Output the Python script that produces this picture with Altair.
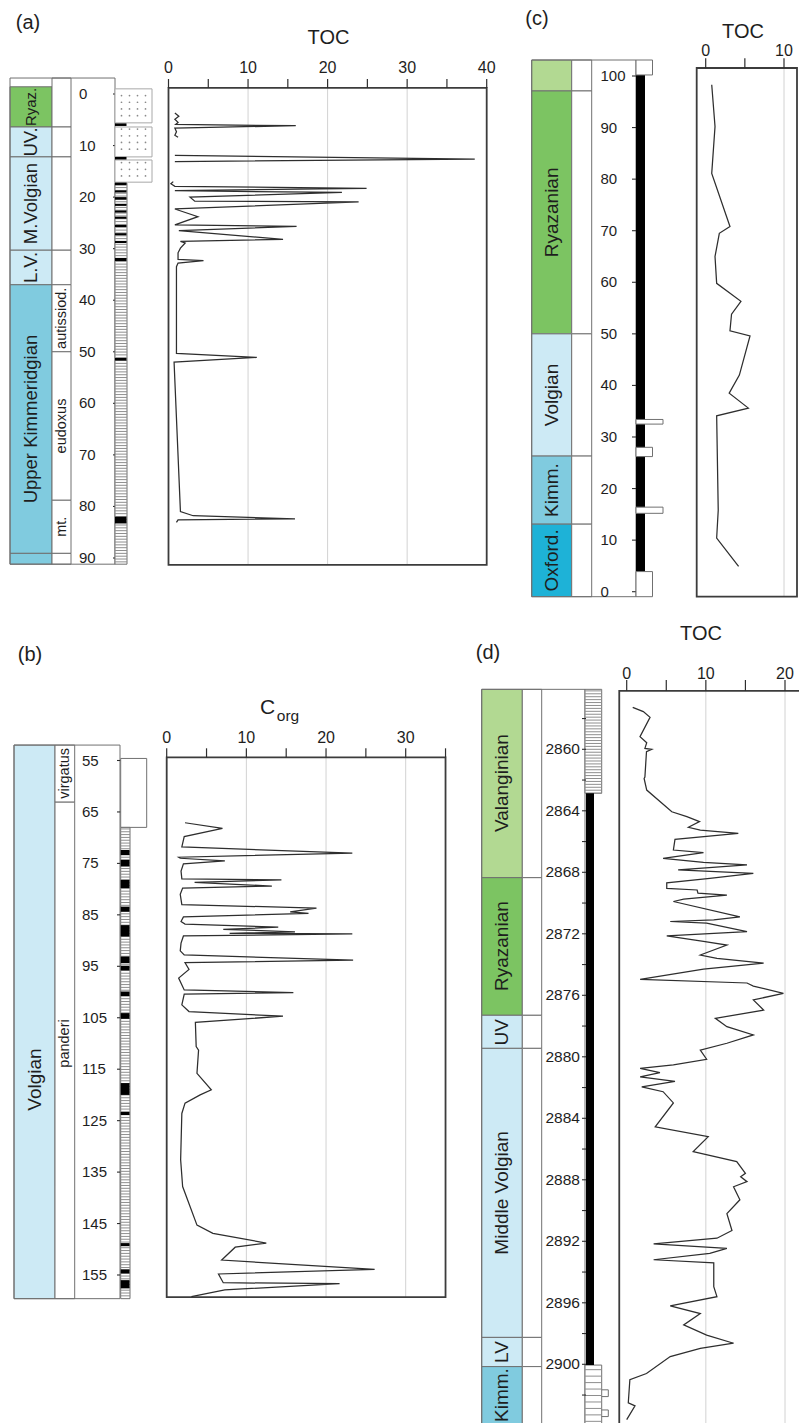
import altair as alt
import pandas as pd

FONT = "Liberation Sans"
TEXT = "#1e1e1e"
INK = "#2e2e2e"
EDGE = "#707070"
FRAME = "#3c3c3c"
GRID = "#d2d2d2"
HATCH = "#8e8e8e"

STAGE_KINDS = ["Valanginian", "Ryazanian", "Volgian", "Kimmeridgian", "Oxfordian"]
STAGE_COLORS = ["#b2d992", "#7cc462", "#cdeaf5", "#80cbdf", "#1eb2d7"]
FS_OVERRIDE = {"Ryaz.": 15}

panel_labels = ["(a)", "(b)", "(c)", "(d)"]
axis_titles = ["TOC", "C", "org"]

# ================= panel (a) =================
a_stage_name = ["Ryaz.", "UV.", "M.Volgian", "L.V.", "Upper Kimmeridgian", ""]
a_stage_kind = ["Ryazanian", "Volgian", "Volgian", "Volgian", "Kimmeridgian", "Kimmeridgian"]
a_stage_top = [-1.4, 6.4, 12.2, 30.3, 37.0, 89.1]
a_stage_bot = [6.4, 12.2, 30.3, 37.0, 89.1, 91.2]
a_zone_name = ["", "", "", "", "autissiod.", "eudoxus", "mt.", ""]
a_zone_top = [-3.1, 6.4, 12.2, 30.3, 37.0, 50.0, 78.8, 89.1]
a_zone_bot = [6.4, 12.2, 30.3, 37.0, 50.0, 78.8, 89.1, 91.2]
a_extent = [-3.1, 91.2]
a_depth_ticks = [0, 10, 20, 30, 40, 50, 60, 70, 80, 90]
a_depth_labels = [0, 10, 20, 30, 40, 50, 60, 70, 80, 90]
a_sand_top = [-1.0, 6.4, 12.8]
a_sand_bot = [5.6, 12.2, 17.1]
a_shale = [17.3, 91.2]
a_black_top = [5.7, 12.2, 17.2, 18.7, 20.0, 21.3, 22.6, 23.8, 25.4, 27.0, 28.5, 31.8, 51.2, 82.0]
a_black_bot = [6.2, 12.7, 17.7, 19.1, 20.5, 21.7, 23.0, 24.2, 25.8, 27.4, 28.9, 32.4, 51.7, 83.3]
a_toc_ticks = [0, 5, 10, 15, 20, 25, 30, 35, 40]
a_toc_labels = [0, 10, 20, 30, 40]
a_toc_grid = [10, 20, 30]
a_toc_frame_x = [0, 40]
a_toc_frame_y = [-1.2, 91.35]
a_toc = [0.8, 1.3, 0.8, 1.2, 0.9, 16.0, 0.8, 1.0, 0.8, 1.2,
         0.8, 38.5, 0.8,
         0.6, 0.3, 0.8, 24.9, 0.8, 21.8, 2.7, 3.3, 23.9, 0.8, 3.7, 0.8, 16.1, 1.3, 14.4, 1.5,
         2.1, 1.5, 1.2, 1.2, 4.4, 1.2, 1.0, 1.0, 11.1, 0.7, 1.5, 3.1, 15.9, 1.2, 1.0]
a_depth = [3.7, 4.3, 4.9, 5.5, 5.9, 6.15, 6.6, 7.3, 8.0, 8.4,
           11.9, 12.65, 13.1,
           17.0, 17.4, 17.9, 18.3, 18.75, 19.1, 20.0, 20.8, 20.9, 22.3, 23.8, 25.4, 25.7, 26.5, 28.2, 28.6,
           28.9, 29.9, 30.8, 32.1, 32.3, 32.8, 33.5, 50.3, 51.1, 52.0, 81.0, 81.8, 82.4, 82.6, 83.1]
a_seg = [0] * 10 + [1] * 3 + [2] * 31

# ================= panel (b) =================
b_stage_name = ["Volgian"]
b_stage_kind = ["Volgian"]
b_stage_top = [52.0]
b_stage_bot = [159.6]
b_stage_lab = [117.0]
b_zone_name = ["virgatus", "panderi"]
b_zone_top = [52.0, 63.1]
b_zone_bot = [63.1, 159.6]
b_zone_lab = [57.5, 110.0]
b_extent = [52.0, 159.6]
b_depth_ticks = [55, 65, 75, 85, 95, 105, 115, 125, 135, 145, 155]
b_depth_labels = [55, 65, 75, 85, 95, 105, 115, 125, 135, 145, 155]
b_white_top = [54.6]
b_white_bot = [68.0]
b_shale = [68.0, 159.6]
b_black_top = [72.4, 74.3, 78.2, 83.4, 87.0, 93.1, 94.9, 99.9, 104.1, 117.7, 123.3, 148.8, 153.9, 156.0]
b_black_bot = [73.4, 75.6, 79.8, 84.4, 89.2, 94.4, 95.8, 100.8, 105.2, 120.0, 123.9, 149.4, 154.7, 157.6]
b_toc_ticks = [0, 5, 10, 15, 20, 25, 30, 35]
b_toc_labels = [0, 10, 20, 30]
b_toc_grid = [10, 20, 30]
b_toc_frame_x = [0, 35]
b_toc_frame_y = [54.4, 159.3]
b_corg = [2.3, 7.0, 2.2, 1.9, 23.3, 1.5, 1.7, 7.3, 2.1, 1.8, 1.9, 14.4, 3.5, 13.2, 2.0, 1.7, 1.9,
          18.8, 15.5, 17.8, 2.1, 1.8, 2.3, 14.0, 7.1, 16.1, 7.9, 23.3, 2.1, 1.8, 1.7, 2.2, 23.4,
          2.3, 2.8, 1.5, 2.2, 15.9, 2.2, 1.9, 2.8, 14.6, 3.6, 3.7, 4.0, 3.8, 5.6, 4.2, 2.3, 1.9,
          1.75, 2.0, 3.8, 5.8, 12.5, 8.6, 6.9, 26.1, 6.5, 7.1, 21.7, 7.3, 3.1]
b_depth = [67.1, 68.2, 69.8, 71.8, 73.0, 73.8, 74.0, 74.5, 75.1, 76.5, 78.0, 78.2, 78.7, 79.4, 79.8, 81.0, 83.0,
           83.7, 84.4, 84.7, 85.4, 86.3, 86.8, 87.4, 87.8, 88.3, 88.6, 88.7, 89.1, 90.5, 92.0, 92.8, 93.8,
           94.3, 95.6, 97.3, 99.6, 100.1, 100.4, 102.5, 103.8, 104.7, 105.9, 110.6, 111.3, 115.8, 119.0, 120.0, 121.6, 123.6,
           132.6, 137.8, 145.3, 146.9, 148.8, 149.6, 152.1, 153.9, 154.8, 156.5, 156.7, 157.9, 159.2]

# ================= panel (c) =================
c_stage_name = ["", "Ryazanian", "Volgian", "Kimm.", "Oxford."]
c_stage_kind = ["Valanginian", "Ryazanian", "Volgian", "Kimmeridgian", "Oxfordian"]
c_stage_top = [103.1, 97.1, 50.0, 26.3, 13.1]
c_stage_bot = [97.1, 50.0, 26.3, 13.1, -0.97]
c_extent = [103.1, -0.97]
c_depth_ticks = [0, 10, 20, 30, 40, 50, 60, 70, 80, 90, 100]
c_depth_labels = [0, 10, 20, 30, 40, 50, 60, 70, 80, 90, 100]
c_box_top = [100.2, 33.4, 28.0, 16.4, 3.9]
c_box_bot = [103.1, 32.5, 26.2, 15.2, -0.97]
c_box_wide = [0, 1, 0, 1, 0]
c_black = [3.9, 100.2]
c_toc_ticks = [0, 5, 10]
c_toc_labels = [0, 10]
c_toc_grid = [10]
c_toc_frame_x = [-1.15, 11.66]
c_toc_frame_y = [101.55, -0.97]
c_toc = [0.77, 1.19, 0.77, 3.1, 1.74, 1.19, 1.4, 4.5, 3.3, 3.1, 5.66, 4.3, 3.0, 5.45, 1.4, 1.6, 1.4, 4.2]
c_height = [98.3, 90.2, 81.1, 70.8, 69.5, 65.0, 59.8, 56.3, 53.8, 50.6, 49.6, 42.0, 38.5, 35.6, 34.1, 15.8, 10.4, 4.9]

# ================= panel (d) =================
d_stage_name = ["Valanginian", "Ryazanian", "UV", "Middle Volgian", "LV", "Kimm."]
d_stage_kind = ["Valanginian", "Ryazanian", "Volgian", "Volgian", "Volgian", "Kimmeridgian"]
d_stage_top = [2856.1, 2868.35, 2877.3, 2879.45, 2898.25, 2900.15]
d_stage_bot = [2868.35, 2877.3, 2879.45, 2898.25, 2900.15, 2905.0]
d_stage_lab = [2862.2, 2872.8, 2878.4, 2888.85, 2899.2, 2902.0]
d_extent = [2856.1, 2905.0]
d_depth_ticks = [2858, 2860, 2862, 2864, 2866, 2868, 2870, 2872, 2874, 2876, 2878, 2880,
                 2882, 2884, 2886, 2888, 2890, 2892, 2894, 2896, 2898, 2900, 2902]
d_depth_labels = [2860, 2864, 2868, 2872, 2876, 2880, 2884, 2888, 2892, 2896, 2900]
d_shale_top = [2856.1, 2900.05]
d_shale_bot = [2862.86, 2905.0]
d_black = [2862.86, 2900.05]
d_bump_top = [2901.66, 2902.97]
d_bump_bot = [2902.1, 2903.4]
d_toc_ticks = [0, 5, 10, 15, 20]
d_toc_labels = [0, 10, 20]
d_toc_grid = [10, 20]
d_toc_frame_x = [-0.94, 25]
d_toc_frame_y = [2856.2, 2906]
d_toc = [0.76, 2.1, 2.95, 1.68, 2.53, 2.3, 3.16, 2.5, 2.3, 2.2, 2.53, 5.7, 7.6, 9.2, 7.8, 9.3, 14.1, 6.1,
         5.9, 9.7, 4.6, 9.7, 15.2, 6.5, 16.0, 10.5, 5.06, 5.06, 8.9, 9.0, 12.66, 7.2, 5.9, 14.3, 11.0,
         5.5, 10.1, 15.2, 5.06, 9.7, 12.66, 9.3, 11.4, 17.3, 9.7, 1.7, 15.2, 16.0, 19.8, 16.0, 17.3,
         11.2, 12.66, 16.0, 12.66, 9.3, 10.1, 5.9, 1.7, 4.2, 1.7, 6.1, 1.9, 4.6, 5.9, 3.6, 10.3, 8.4,
         13.9, 15.0, 14.4, 15.2, 13.5, 14.3, 12.66, 13.3, 11.4, 3.4, 12.66, 10.5, 3.4, 11.0, 11.0,
         11.4, 5.5, 9.3, 7.2, 10.1, 13.5, 9.3, 5.5, 2.5, 0.4, 0.2, 1.05, 0.0]
d_depth = [2857.27, 2857.55, 2857.92, 2859.18, 2859.57, 2859.94, 2860.0, 2860.15, 2861.8, 2861.9, 2862.65,
           2864.06, 2864.38, 2864.7, 2865.07, 2865.25, 2865.47, 2865.86, 2866.55, 2866.72, 2867.09,
           2867.35, 2867.52, 2867.85, 2868.07, 2868.39, 2868.68, 2869.05, 2869.15, 2869.35, 2869.48,
           2869.75, 2869.9, 2870.9, 2871.1, 2871.2, 2871.3, 2871.86, 2872.14, 2872.5, 2872.73, 2873.38,
           2873.6, 2873.9, 2874.3, 2874.96, 2875.2, 2875.4, 2875.87, 2876.3, 2876.96, 2877.5, 2878.04,
           2878.58, 2879.12, 2879.56, 2880.16, 2880.53, 2880.75, 2881.03, 2881.3, 2881.6, 2881.95,
           2882.27, 2883.0, 2884.55, 2885.2, 2886.17, 2886.82, 2887.58, 2887.8, 2888.12, 2888.45,
           2889.3, 2890.2, 2891.3, 2891.8, 2892.17, 2892.46, 2892.78, 2893.2, 2893.4, 2894.95, 2895.6,
           2896.2, 2896.7, 2897.44, 2898.1, 2898.63, 2898.96, 2899.5, 2900.6, 2901.0, 2902.5, 2902.7, 2903.6]


# ================= helpers =================
def sc(dom, rng):
    return alt.Scale(domain=dom, range=rng, nice=False, zero=False)


def Y(field, ys):
    return alt.Y(field, scale=ys, axis=None)


def rects(top, bot, xa, xb, ys, fill="white", stroke=None, sw=1.0):
    df = pd.DataFrame({"top": top, "bot": bot})
    kw = dict(fill=fill)
    if stroke:
        kw.update(stroke=stroke, strokeWidth=sw)
    return alt.Chart(df).mark_rect(**kw).encode(
        x=alt.value(xa), x2=alt.value(xb), y=Y("top:Q", ys), y2="bot:Q")


def stage_layers(names, kinds, top, bot, lab, xa, xb, ys, fs):
    if lab is None:
        lab = [(t + b) / 2 for t, b in zip(top, bot)]
    df = pd.DataFrame({"name": names, "kind": kinds, "top": top, "bot": bot, "lab": lab,
                       "fs": [FS_OVERRIDE.get(n, fs) for n in names]})
    r = alt.Chart(df).mark_rect(stroke=EDGE, strokeWidth=1).encode(
        x=alt.value(xa), x2=alt.value(xb), y=Y("top:Q", ys), y2="bot:Q",
        fill=alt.Fill("kind:N", scale=alt.Scale(domain=STAGE_KINDS, range=STAGE_COLORS), legend=None))
    t = alt.Chart(df).mark_text(angle=270, font=FONT, color=TEXT).encode(
        x=alt.value((xa + xb) / 2), y=Y("lab:Q", ys), text="name:N",
        size=alt.Size("fs:Q", scale=None, legend=None))
    return [r, t]


def zone_layers(names, top, bot, lab, xa, xb, ys, fs=14.5):
    if lab is None:
        lab = [(t + b) / 2 for t, b in zip(top, bot)]
    df = pd.DataFrame({"name": names, "top": top, "bot": bot, "lab": lab})
    r = alt.Chart(df).mark_rect(fill="white", stroke=EDGE, strokeWidth=1).encode(
        x=alt.value(xa), x2=alt.value(xb), y=Y("top:Q", ys), y2="bot:Q")
    t = alt.Chart(df).mark_text(angle=270, font=FONT, fontSize=fs, color=TEXT).encode(
        x=alt.value((xa + xb) / 2), y=Y("lab:Q", ys), text="name:N")
    return [r, t]


def depth_frame(extent, xa, xb, ys):
    df = pd.DataFrame({"t": [extent[0]], "b": [extent[1]]})
    return alt.Chart(df).mark_rect(fill="white", fillOpacity=0, stroke=EDGE, strokeWidth=1).encode(
        x=alt.value(xa), x2=alt.value(xb), y=Y("t:Q", ys), y2="b:Q")


def depth_axis(ticks, labels, ys, axis_x, label_left, fs=15, t_in=4, t_out=1):
    r = alt.Chart(pd.DataFrame({"d": ticks})).mark_rule(color=INK, strokeWidth=1.1).encode(
        x=alt.value(axis_x - t_in), x2=alt.value(axis_x + t_out), y=Y("d:Q", ys))
    ldf = pd.DataFrame({"d": labels, "s": [str(v) for v in labels]})
    t = alt.Chart(ldf).mark_text(align="left", baseline="middle", font=FONT, fontSize=fs,
                                  color=TEXT).encode(
        x=alt.value(label_left), y=Y("d:Q", ys), text="s:N")
    return [r, t]


def hatch(start, stop, step, xa, xb, ys, sw=1.0):
    return alt.Chart(alt.sequence(start, stop, step, as_="d")).mark_rule(
        color=HATCH, strokeWidth=sw).encode(x=alt.value(xa), x2=alt.value(xb), y=Y("d:Q", ys))


def toc_layers(vals, depth, seg, xs, ys, ticks, labels, grid, fx, fy, top_px, tick_size, label_base):
    X = lambda f: alt.X(f, scale=xs, axis=None)
    g = alt.Chart(pd.DataFrame({"g": grid, "t": fy[0], "b": fy[1]})).mark_rule(
        color=GRID, strokeWidth=1).encode(x=X("g:Q"), y=Y("t:Q", ys), y2="b:Q")
    f = alt.Chart(pd.DataFrame({"l": [fx[0]], "r": [fx[1]], "t": [fy[0]], "b": [fy[1]]})).mark_rect(
        fill="white", fillOpacity=0, stroke=FRAME, strokeWidth=1.8).encode(
        x=X("l:Q"), x2="r:Q", y=Y("t:Q", ys), y2="b:Q")
    tk = alt.Chart(pd.DataFrame({"v": ticks})).mark_rule(color=INK, strokeWidth=1.2).encode(
        x=X("v:Q"), y=alt.value(top_px - tick_size), y2=alt.value(top_px))
    lb = alt.Chart(pd.DataFrame({"v": labels, "s": [str(v) for v in labels]})).mark_text(
        baseline="alphabetic", align="center", font=FONT, fontSize=16, color=TEXT).encode(
        x=X("v:Q"), y=alt.value(label_base), text="s:N")
    df = pd.DataFrame({"v": vals, "depth": depth, "seg": seg, "i": list(range(len(vals)))})
    ln = alt.Chart(df).mark_line(color=INK, strokeWidth=1.25).encode(
        x=X("v:Q"), y=Y("depth:Q", ys), order=alt.Order("i:Q"), detail="seg:N")
    return [g, f, tk, lb, ln]


def label(txt, x, y, fs, **kw):
    return alt.Chart(pd.DataFrame({"t": [txt]})).mark_text(
        font=FONT, fontSize=fs, color=TEXT, **kw).encode(x=alt.value(x), y=alt.value(y), text="t:N")


# ================= panel (a) =================
ys_a = sc([0, 90], [94, 558])
xs_a = sc([0, 40], [168.5, 486.7])
dots_expr = " || ".join("(datum.d > %.2f && datum.d < %.2f)" % (t + 0.3, b - 0.3)
                        for t, b in zip(a_sand_top, a_sand_bot))
a_layers = []
a_layers += stage_layers(a_stage_name, a_stage_kind, a_stage_top, a_stage_bot, None, 10, 52, ys_a, 18.5)
a_layers += zone_layers(a_zone_name, a_zone_top, a_zone_bot, None, 52, 71, ys_a)
a_layers.append(depth_frame(a_extent, 10, 115, ys_a))
a_layers += depth_axis(a_depth_ticks, a_depth_labels, ys_a, 115, 79, t_in=2, t_out=3)
a_layers.append(rects(a_sand_top, a_sand_bot, 115, 152, ys_a, stroke="#a8a8a8"))
for xx in [121.5, 129.5, 137.5, 145.5]:
    a_layers.append(alt.Chart(alt.sequence(-1.0, 17.2, 1.3, as_="d")).transform_filter(dots_expr)
                    .mark_circle(size=3, color="#8a8a8a", opacity=1).encode(x=alt.value(xx), y=Y("d:Q", ys_a)))
a_layers.append(rects([a_shale[0]], [a_shale[1]], 115, 127, ys_a, stroke=EDGE))
a_layers.append(hatch(a_shale[0] + 0.3, a_shale[1], 0.55, 115, 127, ys_a))
a_layers.append(rects(a_black_top, a_black_bot, 115, 126.5, ys_a, fill="black"))
a_layers += toc_layers(a_toc, a_depth, a_seg, xs_a, ys_a, a_toc_ticks, a_toc_labels, a_toc_grid,
                       a_toc_frame_x, a_toc_frame_y, 88, 9, 72.5)
panel_a = alt.layer(*a_layers)

# ================= panel (b) =================
ys_b = sc([55, 155], [760.5, 1275])
xs_b = sc([0, 30], [166.7, 405.7])
b_layers = []
b_layers += stage_layers(b_stage_name, b_stage_kind, b_stage_top, b_stage_bot, b_stage_lab, 14, 55, ys_b, 19)
b_layers += zone_layers(b_zone_name, b_zone_top, b_zone_bot, b_zone_lab, 55, 74.7, ys_b)
b_layers.append(depth_frame(b_extent, 14, 120, ys_b))
b_layers += depth_axis(b_depth_ticks, b_depth_labels, ys_b, 120, 82, t_in=3, t_out=1)
b_layers.append(rects(b_white_top, b_white_bot, 120.7, 146.7, ys_b, stroke=EDGE))
b_layers.append(rects([b_shale[0]], [b_shale[1]], 120.7, 130, ys_b, stroke=EDGE))
b_layers.append(hatch(b_shale[0] + 0.3, b_shale[1], 0.55, 120.7, 130, ys_b))
b_layers.append(rects(b_black_top, b_black_bot, 120.7, 129.5, ys_b, fill="black"))
b_layers += toc_layers(b_corg, b_depth, [0] * len(b_corg), xs_b, ys_b, b_toc_ticks, b_toc_labels,
                       b_toc_grid, b_toc_frame_x, b_toc_frame_y, 757.3, 9, 742.5)
panel_b = alt.layer(*b_layers)

# ================= panel (c) =================
ys_c = sc([0, 100], [591.7, 76])
xs_c = sc([0, 10], [705.7, 784])
c_layers = []
c_layers += stage_layers(c_stage_name, c_stage_kind, c_stage_top, c_stage_bot, None, 531.7, 571.7, ys_c, 19)
c_layers += zone_layers([""] * 5, c_stage_top, c_stage_bot, None, 571.7, 591.7, ys_c)
c_layers.append(depth_frame(c_extent, 531.7, 636, ys_c))
c_layers += depth_axis(c_depth_ticks, c_depth_labels, ys_c, 636, 600.5, t_in=4, t_out=0)
c_layers.append(rects([c_black[0]], [c_black[1]], 636, 645, ys_c, fill="black"))
c_narrow = [i for i, w in enumerate(c_box_wide) if w == 0]
c_wide = [i for i, w in enumerate(c_box_wide) if w == 1]
c_layers.append(rects([c_box_top[i] for i in c_narrow], [c_box_bot[i] for i in c_narrow],
                      636, 652.5, ys_c, stroke=EDGE))
c_layers.append(rects([c_box_top[i] for i in c_wide], [c_box_bot[i] for i in c_wide],
                      636, 663, ys_c, stroke=EDGE))
c_layers += toc_layers(c_toc, c_height, [0] * len(c_toc), xs_c, ys_c, c_toc_ticks, c_toc_labels,
                       c_toc_grid, c_toc_frame_x, c_toc_frame_y, 68.3, 10, 56)
panel_c = alt.layer(*c_layers)

# ================= panel (d) =================
ys_d = sc([2860, 2900], [749.3, 1364.3])
xs_d = sc([0, 20], [626.7, 785])
d_layers = []
d_layers += stage_layers(d_stage_name, d_stage_kind, d_stage_top, d_stage_bot, d_stage_lab, 481.7, 522.3, ys_d, 19)
d_layers += zone_layers([""] * 6, d_stage_top, d_stage_bot, None, 522.3, 541.7, ys_d)
d_layers.append(depth_frame(d_extent, 481.7, 585, ys_d))
d_layers.append(rects(d_bump_top, d_bump_bot, 594, 608.3, ys_d, stroke=EDGE))
d_layers.append(rects(d_shale_top, d_shale_bot, 585, 601.7, ys_d, stroke=EDGE))
d_layers.append(hatch(d_shale_top[0] + 0.1, d_shale_bot[0], 0.19, 585, 601.7, ys_d))
d_layers.append(hatch(d_shale_top[1] + 0.3, d_shale_bot[1], 0.42, 585, 601.7, ys_d))
d_layers.append(rects([d_black[0]], [d_black[1]], 586, 594, ys_d, fill="black"))
d_layers += depth_axis(d_depth_ticks, d_depth_labels, ys_d, 586, 545.5, fs=15.5, t_in=4, t_out=0)
d_layers += toc_layers(d_toc, d_depth, [0] * len(d_toc), xs_d, ys_d, d_toc_ticks, d_toc_labels,
                       d_toc_grid, d_toc_frame_x, d_toc_frame_y, 691, 11, 679)
panel_d = alt.layer(*d_layers)

texts = [
    label(panel_labels[0], 28, 23, 20),
    label(panel_labels[1], 30, 655, 20),
    label(panel_labels[2], 537, 19, 20),
    label(panel_labels[3], 488, 653, 20),
    label(axis_titles[0], 328.5, 38, 20),
    label(axis_titles[0], 743, 32, 20),
    label(axis_titles[0], 701, 634, 20),
    label(axis_titles[1], 267.5, 708, 21),
    label(axis_titles[2], 288, 716, 15.5),
]

chart = alt.layer(panel_a, panel_b, panel_c, panel_d, *texts).resolve_scale(
    x="independent", y="independent"
).properties(
    width=799, height=1423, padding=0, autosize=alt.AutoSizeParams(type="none")
).configure_view(stroke=None)

chart.save("out.html", embed_options={"renderer": "svg", "actions": False})
